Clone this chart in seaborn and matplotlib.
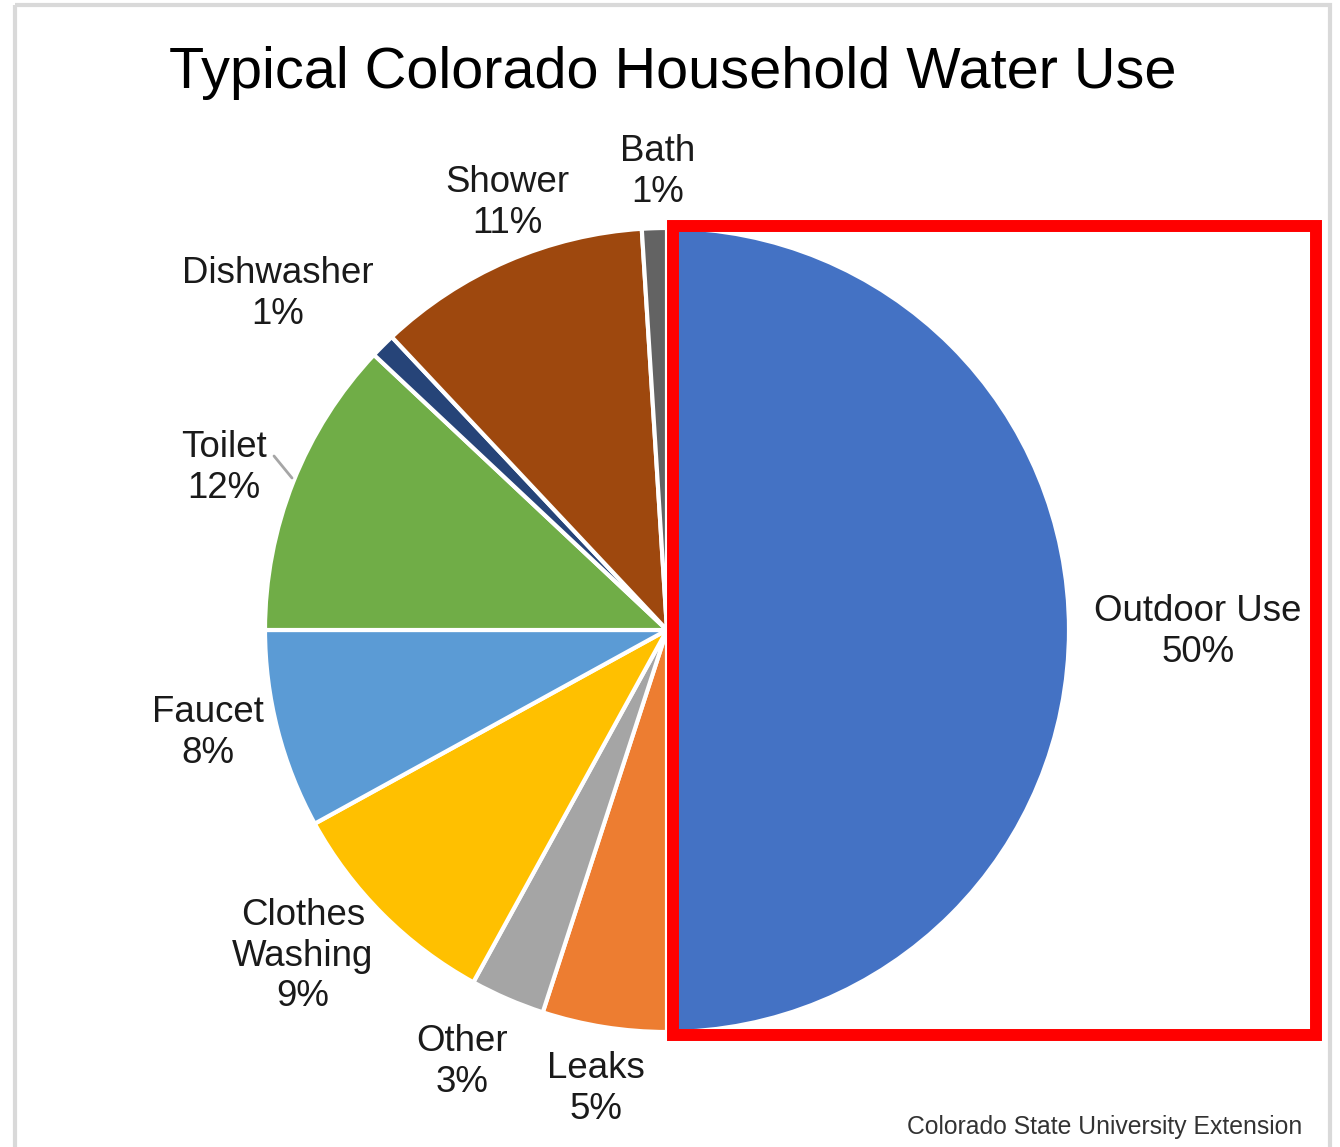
import matplotlib
matplotlib.use("Agg")
import matplotlib.pyplot as plt
import matplotlib.patches as patches
import seaborn as sns

# Slices clockwise from 12 o'clock
categories = ["Outdoor Use", "Leaks", "Other", "Clothes\nWashing", "Faucet",
              "Toilet", "Dishwasher", "Shower", "Bath"]
shares = [50, 5, 3, 9, 8, 12, 1, 11, 1]
colors = ["#4472C4", "#ED7D31", "#A5A5A5", "#FFC000", "#5B9BD5",
          "#70AD47", "#264478", "#9E480E", "#636363"]

W, H = 1340, 1147


def main():
    sns.set_theme(style="white")
    plt.rcParams["font.family"] = ["Liberation Sans", "DejaVu Sans"]

    fig = plt.figure(figsize=(W / 100, H / 100), dpi=100)
    ax = fig.add_axes([0, 0, 1, 1])

    cx, cy, r = 667, 630, 402
    # pie in an inverted y axis: counterclock=True reads clockwise on screen
    ax.pie(shares, colors=colors, startangle=-90, counterclock=True,
           center=(cx, cy), radius=r, frame=True,
           wedgeprops=dict(edgecolor="white", linewidth=3))
    ax.set_xlim(0, W)
    ax.set_ylim(H, 0)
    ax.set_aspect("equal")
    ax.axis("off")

    # label positions (pixel centres)
    label_pos = [(1198, 632), (596, 1089), (462, 1062), (303, 956), (208, 733),
                 (224, 468), (278, 294), (507, 203), (658, 172)]
    for name, val, (x, y) in zip(categories, shares, label_pos):
        ax.text(x, y, f"{name}\n{val}%", ha="center", va="center",
                fontsize=26.4, color="#1a1a1a", linespacing=1.2)

    # leader line for Toilet
    ax.plot([274, 292], [456, 478], color="#A6A6A6", lw=2)

    ax.text(673, 73, "Typical Colorado Household Water Use", ha="center",
            va="center", fontsize=41.5, color="black")
    ax.text(1302, 1127, "Colorado State University Extension", ha="right",
            va="center", fontsize=17.8, color="#333333")

    # highlight box around Outdoor Use
    ax.add_patch(patches.Rectangle((673, 226), 643, 809, fill=False,
                                   edgecolor="#FF0000", linewidth=8.6))
    # outer frame
    ax.add_patch(patches.Rectangle((15, 4.5), 1315, 1160, fill=False,
                                   edgecolor="#D9D9D9", linewidth=3,
                                   clip_on=False))

    fig.savefig("out.png", dpi=100)
    plt.close(fig)


if __name__ == "__main__":
    main()
